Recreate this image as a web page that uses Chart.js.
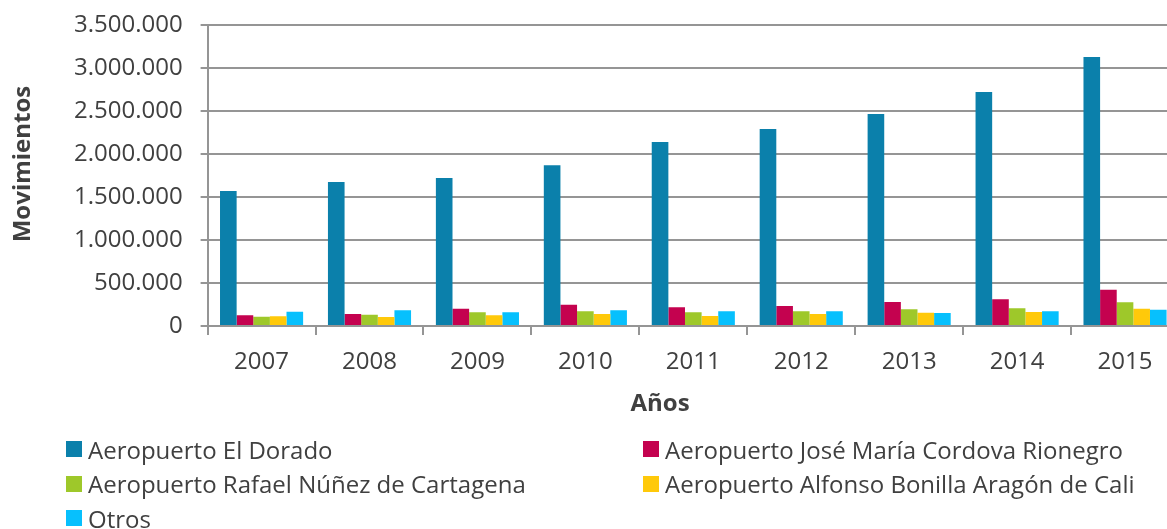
<!DOCTYPE html>
<html>
<head>
<meta charset="utf-8">
<script src="https://cdn.jsdelivr.net/npm/chart.js@4.4.1/dist/chart.umd.min.js"></script>
<style>
  html, body { margin:0; padding:0; background:#fff; overflow:hidden; width:1167px; height:529px; }
  #wrap { position:relative; width:1167px; height:529px; overflow:hidden; }
  #c { position:absolute; left:0; top:0; }
  #legend { position:absolute; left:0; top:0; width:1167px; height:529px; pointer-events:none;
            font-family:"Open Sans", sans-serif; font-size:24px; color:#404040; }
  .item { position:absolute; display:flex; align-items:center; height:34px; white-space:nowrap; }
  .box { width:16px; height:16px; margin-right:6px; flex:none; }
</style>
</head>
<body>
<div id="wrap">
  <canvas id="c" width="1180" height="529"></canvas>
  <div id="legend"></div>
</div>
<script>
const categories = ["2007","2008","2009","2010","2011","2012","2013","2014","2015"];
const seriesNames = [
  "Aeropuerto El Dorado",
  "Aeropuerto José María Cordova Rionegro",
  "Aeropuerto Rafael Núñez de Cartagena",
  "Aeropuerto Alfonso Bonilla Aragón de Cali",
  "Otros"
];
const elDorado  = [1570000,1675000,1720000,1870000,2140000,2290000,2465000,2720000,3128000];
const rionegro  = [124000,140000,202000,248000,217000,233000,279000,310000,422000];
const cartagena = [108000,132000,159000,171000,159000,171000,194000,206000,275000];
const cali      = [113000,105000,124000,140000,116000,140000,155000,163000,202000];
const otros     = [166000,182000,159000,182000,171000,171000,151000,171000,190000];
const colors = ["#0b80ab","#c4024f","#9ec82a","#ffc90a","#07c0fd"];
const yTickMax = 3500000;
const yTickStep = 500000;
const xTitle = "Años";
const yTitle = "Movimientos";

const seriesValues = [elDorado, rionegro, cartagena, cali, otros];
const textColor = "#404040";
const gridColor = "#959595";
const FONT = "'Open Sans', sans-serif";

function fmt(v){ return String(v).replace(/\B(?=(\d{3})+(?!\d))/g, "."); }

const titlesPlugin = {
  id: "titles",
  afterDraw(chart){
    const ctx = chart.ctx;
    ctx.save();
    ctx.fillStyle = textColor;
    ctx.font = "bold 24px " + FONT;
    ctx.textAlign = "center";
    ctx.textBaseline = "alphabetic";
    ctx.fillText(xTitle, 660, 411);
    ctx.translate(30, 164);
    ctx.rotate(-Math.PI/2);
    ctx.fillText(yTitle, 0, 0);
    ctx.restore();
  }
};

const chart = new Chart(document.getElementById("c"), {
  type: "bar",
  data: {
    labels: categories,
    datasets: seriesNames.map((n,i)=>({
      label: n,
      data: seriesValues[i],
      backgroundColor: colors[i],
      borderWidth: 0,
      barPercentage: 1.0,
      categoryPercentage: 0.77
    }))
  },
  options: {
    responsive: false,
    animation: false,
    devicePixelRatio: 1,
    layout: { padding: { top: 25, right: 1, bottom: 150, left: 0 } },
    plugins: { legend: { display:false }, tooltip: { enabled:false } },
    scales: {
      x: {
        offset: true,
        grid: { offset:true, drawOnChartArea:false, drawTicks:true, tickLength:9, color:gridColor, lineWidth:2 },
        border: { display:true, color:gridColor, width:2 },
        ticks: { color:textColor, font:{ family:FONT, size:24 }, padding:13, maxRotation:0 },
        afterFit(s){ s.height = 53; s.paddingLeft = 0; s.paddingRight = 0; }
      },
      y: {
        min: 0, max: yTickMax,
        grid: { drawOnChartArea:true, drawTicks:true, tickLength:7, color:gridColor, lineWidth:2 },
        border: { display:true, color:gridColor, width:2 },
        ticks: { stepSize:yTickStep, color:textColor, font:{ family:FONT, size:24 }, padding:18,
                 callback: v => fmt(v) },
        afterFit(s){ s.width = 207.6; s.paddingTop = 0; s.paddingBottom = 0; }
      }
    }
  },
  plugins: [titlesPlugin]
});

// HTML legend built from chart datasets (two columns)
const legend = document.getElementById("legend");
const colX = [66, 643];
const rowY = [432, 466.5, 501];
chart.data.datasets.forEach((ds, i) => {
  const d = document.createElement("div");
  d.className = "item";
  d.style.left = colX[i % 2] + "px";
  d.style.top = rowY[Math.floor(i / 2)] + "px";
  const b = document.createElement("span");
  b.className = "box";
  b.style.background = ds.backgroundColor;
  const t = document.createElement("span");
  t.textContent = ds.label;
  d.appendChild(b); d.appendChild(t);
  legend.appendChild(d);
});
</script>
</body>
</html>
